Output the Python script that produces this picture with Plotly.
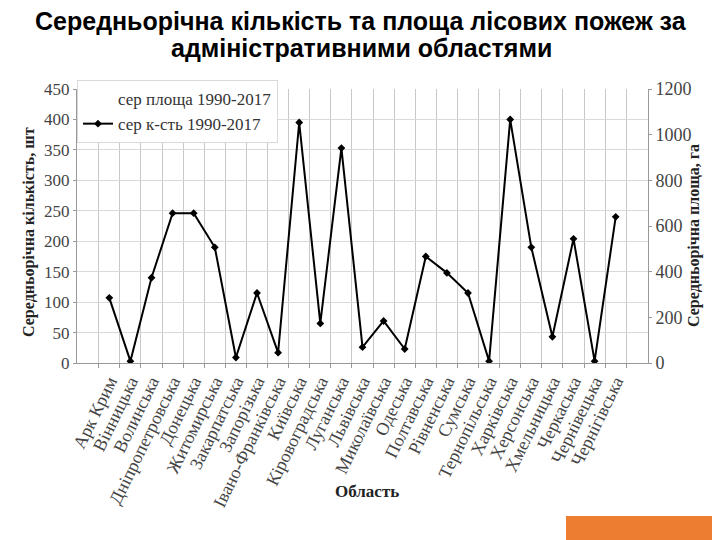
import plotly.graph_objects as go

regions = ["Арк Крим", "Вінницька", "Волинська", "Дніпропетровська", "Донецька",
           "Житомирська", "Закарпатська", "Запорізька", "Івано-Франківська", "Київська",
           "Кіровоградська", "Луганська", "Львівська", "Миколаївська", "Одеська",
           "Полтавська", "Рівненська", "Сумська", "Тернопільська", "Харківська",
           "Херсонська", "Хмельницька", "Черкаська", "Чернівецька", "Чернігівська"]
count_avg = [107, 3, 140, 246, 246, 190, 9, 115, 17, 395,
             65, 353, 26, 69, 23, 175, 148, 115, 3, 400,
             190, 43, 204, 3, 240]

serif = "Liberation Serif"

# the page adds an 8px body margin, so the figure is drawn 8px smaller
# and all screen positions below are shifted by OFF
OFF = 8
FW, FH = 720 - OFF, 540 - OFF
L, R, T, B = 77 - OFF, 648 - OFF, 89 - OFF, 363 - OFF
W, H = R - L, B - T

fig = go.Figure()

# area series: present in the legend only, its line is not visible in the picture
fig.add_trace(go.Scatter(
    x=[None], y=[None], mode="lines", name="сер площа 1990-2017",
    line=dict(color="rgba(0,0,0,0)", width=2), yaxis="y2"
))

fig.add_trace(go.Scatter(
    x=regions, y=count_avg, mode="lines+markers", name="сер к-сть 1990-2017",
    line=dict(color="black", width=2),
    marker=dict(symbol="diamond", size=6, color="black")
))

def px_x(x):
    return (x - OFF - L) / W

def px_y(y):
    return (B - (y - OFF)) / H

fig.update_layout(
    width=FW, height=FH,
    paper_bgcolor="white", plot_bgcolor="white",
    margin=dict(l=L, r=FW - R, t=T, b=FH - B),
    font=dict(family=serif, size=15, color="#333"),
    showlegend=True,
    legend=dict(x=0, y=px_y(80), xanchor="left", yanchor="top",
                bgcolor="white", bordercolor="#d9d9d9", borderwidth=1,
                font=dict(family=serif, size=17, color="#333"),
                tracegroupgap=0, itemwidth=30),
    xaxis=dict(type="category", tickson="boundaries", showgrid=True,
               tickmode="linear", tick0=0, dtick=1,
               gridcolor="#c8c8c8", gridwidth=1, automargin=False,
               showline=True, linecolor="#999", ticks="outside", ticklen=4,
               tickcolor="#999", tickangle=-64,
               tickfont=dict(family=serif, size=18, color="#444")),
    yaxis=dict(range=[0, 450], dtick=50, showgrid=True, gridcolor="#d9d9d9",
               showline=True, linecolor="#999", ticks="outside", ticklen=3, tickcolor="#999",
               tickfont=dict(family=serif, size=17, color="#444"),
               zeroline=False, automargin=False),
    yaxis2=dict(range=[0, 1200], dtick=200, overlaying="y", side="right", showgrid=False,
                showline=True, linecolor="#999", ticks="outside", ticklen=3, tickcolor="#999",
                tickfont=dict(family=serif, size=18, color="#444"), zeroline=False,
                automargin=False),
)

# title
for text, y in [("Середньорічна кількість та площа лісових пожеж за", 21),
                ("адміністративними областями", 48)]:
    fig.add_annotation(text="<b>" + text + "</b>", xref="paper", yref="paper",
                       x=px_x(361), y=px_y(y), showarrow=False,
                       xanchor="center", yanchor="middle",
                       font=dict(family="Liberation Sans", size=25, color="black"))

# axis titles
fig.add_annotation(text="<b>Середньорічна кількість, шт</b>", xref="paper", yref="paper",
                   x=px_x(18), y=px_y(232), textangle=-90, showarrow=False,
                   font=dict(family=serif, size=16, color="#222"))
fig.add_annotation(text="<b>Середньорічна площа, га</b>", xref="paper", yref="paper",
                   x=px_x(705), y=px_y(236), textangle=-90, showarrow=False,
                   font=dict(family=serif, size=16, color="#222"))
fig.add_annotation(text="<b>Область</b>", xref="paper", yref="paper",
                   x=px_x(367), y=px_y(503), showarrow=False,
                   font=dict(family=serif, size=17, color="#222"))

fig.add_shape(type="rect", xref="paper", yref="paper",
              x0=px_x(566), x1=px_x(720), y0=px_y(540), y1=px_y(516),
              fillcolor="#ED7D31", line=dict(width=0), layer="above")

fig.write_html("out.html")
